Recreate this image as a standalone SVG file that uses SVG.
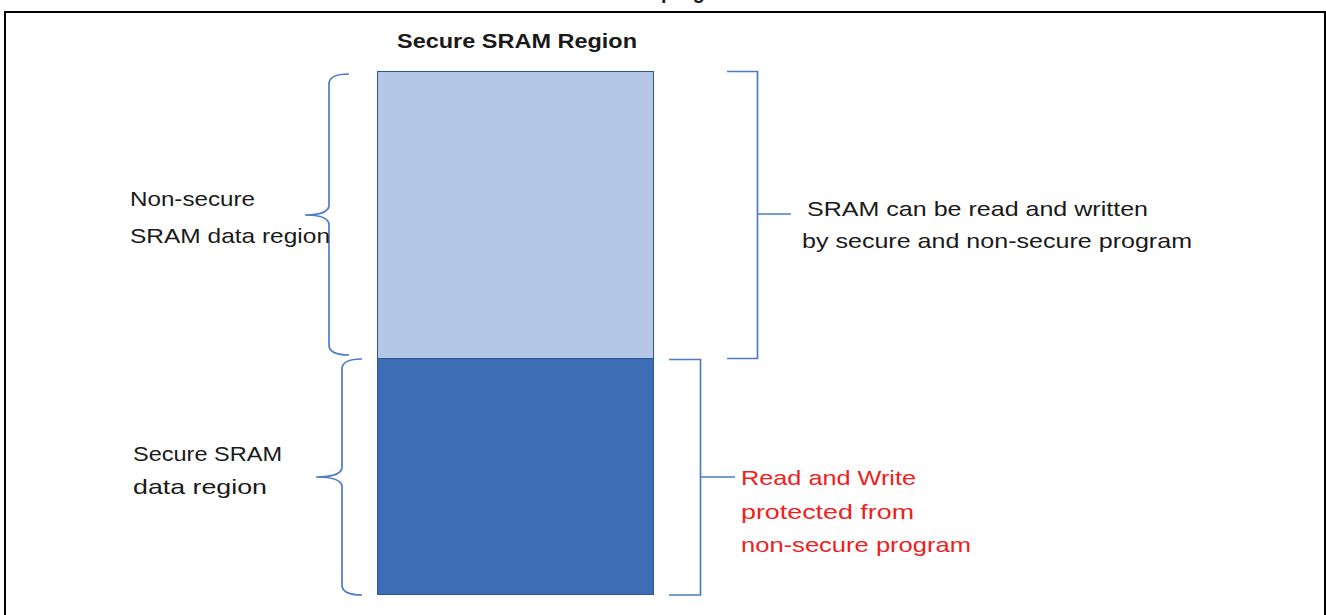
<svg xmlns="http://www.w3.org/2000/svg" width="1326" height="615" viewBox="0 0 1326 615">
<style>
text{font-family:"Liberation Sans",Arial,sans-serif;font-size:21px;fill:#1a1a1a}
.b{font-weight:bold;font-size:20px}
.red{fill:#F02020}
.br{fill:none;stroke:#4F7AC9;stroke-width:1.7}
.frame{fill:none;stroke:#000;stroke-width:2}
</style>
<rect width="1326" height="615" fill="#fff"/>
<text class="b" x="661" y="-1" textLength="80" lengthAdjust="spacingAndGlyphs">program</text>
<path class="frame" d="M5,615 V12 H1325 V615"/>
<text id="title" class="b" x="397" y="48" textLength="240" lengthAdjust="spacingAndGlyphs">Secure SRAM Region</text>
<g id="nonsecure-block">
<rect x="377.5" y="71.5" width="276" height="287" fill="#B4C7E7" stroke="#2F5597" stroke-width="1"/>
</g>
<g id="secure-block">
<rect x="377.5" y="358.5" width="276" height="236" fill="#3D6DB5" stroke="#2F5597" stroke-width="1"/>
</g>
<g id="connectors">
<path class="br" d="M349,74 Q329,74 329,84 L329,205 Q329,215 305,215 Q329,215 329,225 L329,345 Q329,355 349,355"/>
<path class="br" d="M362,359 Q342,359 342,369 L342,467 Q342,477 316,477 Q342,477 342,487 L342,585 Q342,595 362,595"/>
<path class="br" d="M727,71.5 H757.5 V358.5 H727 M757.5,214 H791"/>
<path class="br" d="M669,359.5 H700.5 V595 H669 M700.5,477 H735"/>
</g>
<g id="label-nonsecure">
<text x="130" y="206" textLength="125" lengthAdjust="spacingAndGlyphs">Non-secure</text>
<text x="130" y="243" textLength="200" lengthAdjust="spacingAndGlyphs">SRAM data region</text>
</g>
<g id="label-rw">
<text x="807" y="216" textLength="341" lengthAdjust="spacingAndGlyphs">SRAM can be read and written</text>
<text x="802" y="248" textLength="390" lengthAdjust="spacingAndGlyphs">by secure and non-secure program</text>
</g>
<g id="label-secure">
<text x="133" y="461" textLength="149" lengthAdjust="spacingAndGlyphs">Secure SRAM</text>
<text x="133" y="494" textLength="134" lengthAdjust="spacingAndGlyphs">data region</text>
</g>
<g id="label-protected">
<text class="red" x="741" y="485" textLength="175" lengthAdjust="spacingAndGlyphs">Read and Write</text>
<text class="red" x="741" y="519" textLength="173" lengthAdjust="spacingAndGlyphs">protected from</text>
<text class="red" x="741" y="552" textLength="230" lengthAdjust="spacingAndGlyphs">non-secure program</text>
</g>
</svg>
